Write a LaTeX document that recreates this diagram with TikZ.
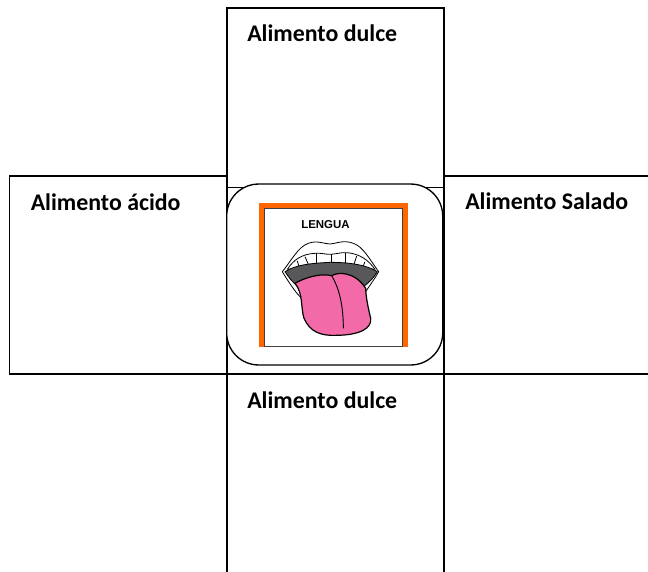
\documentclass[tikz,border=0pt]{standalone}
\usepackage{fontspec}
\setmainfont{Carlito}
\newfontfamily\lenguafont{Liberation Sans}
\definecolor{frameorange}{HTML}{FF6600}
\definecolor{tonguepink}{HTML}{F26BA8}
\definecolor{gumgray}{HTML}{58585A}
\begin{document}
\begin{tikzpicture}[x=0.75pt,y=-0.75pt,
            food box/.style={draw=black,line width=1.2pt,fill=white,inner sep=0pt},
            food label/.style={anchor=base west,inner sep=0pt,font=\fontsize{17.9}{20}\selectfont\bfseries},
            mouth line/.style={draw=black,line width=0.6pt,line join=round}]
        \useasboundingbox (0,0) rectangle (648,571);
        \clip (0,0) rectangle (648,571);

        % Define boxes
        \node[food box,minimum width=162.9pt,minimum height=134.7pt] (top) at (335.3,97.8) {};
        \node[food box,minimum width=163pt,minimum height=148.7pt] (left) at (118.2,275) {};
        \node[food box,minimum width=165pt,minimum height=148.7pt] (right) at (553.7,275) {};
        \node[food box,minimum width=162.9pt,minimum height=165pt] (bottom) at (335.3,484) {};
        \node[draw=black,line width=1pt,fill=white,rounded corners=24pt,inner sep=0pt,
            minimum width=162pt,minimum height=135.7pt] (center) at (334.7,274.5) {};

        % Labels
        \node[food label] (top label) at (247,41.5) {Alimento dulce};
        \node[food label] (left label) at (30.5,210) {Alimento ácido};
        \node[food label] (right label) at (465,209.5) {Alimento Salado};
        \node[food label] (bottom label) at (247,408) {Alimento dulce};

        % Picture frame
        \fill[frameorange] (258.5,202.7) rectangle (408,347);
        \filldraw[fill=white,draw=black!75,line width=0.5pt] (264.5,208.5) rectangle (402.5,346);
        \node[anchor=base,inner sep=0pt,font=\lenguafont\fontsize{8.6}{10}\selectfont\bfseries] (lengua) at (325.5,228.3) {LENGUA};

        % Mouth
        \begin{scope}[shift={(270,230)},x=0.25pt,y=-0.25pt]
            % lips
            \draw[mouth line,fill=white] (37,125) .. controls (65,90) and (85,50) .. (115,40)
                .. controls (140,30) and (165,42) .. (180,42)
                .. controls (195,42) and (220,28) .. (250,40)
                .. controls (280,50) and (300,90) .. (326,125)
                .. controls (312,150) and (300,165) .. (287,185)
                -- (90,200) .. controls (75,185) and (55,155) .. (37,125) -- cycle;
            % teeth
            \draw[mouth line,fill=white] (52,118) .. controls (70,90) and (95,72) .. (135,70)
                .. controls (150,68) and (165,73) .. (180,73)
                .. controls (195,73) and (215,66) .. (232,68)
                .. controls (270,72) and (295,90) .. (315,118) -- cycle;
            \foreach \upx/\upy/\lowx/\lowy in {82/93/88/112,105/80/115/103,140/70/140/100,185/73/185/100,225/70/225/100,260/78/252/103,285/95/278/112}
                \draw[mouth line] (\upx,\upy) -- (\lowx,\lowy);
            % gum
            \draw[mouth line,fill=gumgray] (45,125) .. controls (75,105) and (120,100) .. (180,97)
                .. controls (240,97) and (290,105) .. (322,125)
                .. controls (310,145) and (300,155) .. (280,170)
                -- (85,170) .. controls (65,155) and (55,140) .. (45,125) -- cycle;
            % tongue
            \draw[draw=black,line width=0.9pt,fill=tonguepink,line join=round] (75,160)
                .. controls (100,145) and (150,128) .. (185,137)
                .. controls (205,125) and (255,125) .. (287,175)
                .. controls (288,205) and (295,235) .. (302,265)
                .. controls (306,295) and (270,315) .. (200,316)
                .. controls (150,318) and (120,305) .. (102,265)
                .. controls (92,235) and (100,190) .. (75,160) -- cycle;
            \draw[draw=black,line width=0.7pt] (185,137) .. controls (205,170) and (220,220) .. (220,295);
        \end{scope}

        \end{tikzpicture}
\end{document}
